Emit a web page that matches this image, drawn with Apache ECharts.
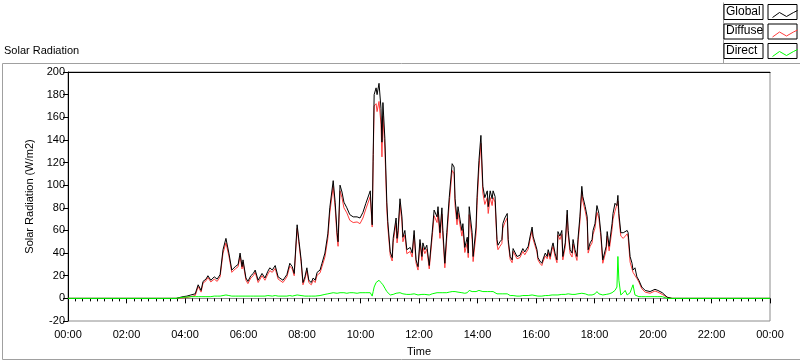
<!DOCTYPE html>
<html>
<head>
<meta charset="utf-8">
<script src="https://cdn.jsdelivr.net/npm/echarts@6/dist/echarts.min.js"></script>
<style>
html,body{margin:0;padding:0;background:#fff;}
#chart{width:800px;height:361px;}
</style>
</head>
<body>
<div id="chart"></div>
<script>
// time of each sample, minutes after midnight
var times = [0,222,226,236,244,252,261,267,273,277,283,287,293,300,306,312,318,324,330,336,343,349,353,357,359,365,369,375,380,384,390,398,404,410,414,419,425,431,435,441,449,455,460,464,470,474,478,482,486,490,494,499,503,507,511,517,521,527,533,537,544,548,552,554,558,562,566,572,578,585,593,599,605,611,615,620,624,626,628,632,634,638,642,644,646,650,654,656,661,665,667,673,675,677,681,685,687,691,695,702,706,710,714,718,722,726,728,732,736,741,747,751,757,759,763,767,769,773,777,782,786,788,792,794,798,800,804,808,810,814,819,821,823,829,831,837,839,843,847,851,855,860,862,866,870,872,876,880,882,886,890,892,896,901,903,907,911,913,921,927,933,937,944,948,952,954,958,962,964,968,972,974,979,983,985,989,993,995,999,1003,1005,1009,1013,1015,1020,1024,1026,1030,1034,1036,1040,1044,1046,1050,1054,1056,1061,1065,1067,1071,1075,1077,1081,1085,1089,1093,1097,1100,1104,1106,1110,1116,1118,1122,1126,1128,1130,1134,1139,1143,1147,1149,1153,1157,1159,1163,1167,1171,1177,1184,1194,1204,1210,1219,1229,1239,1440];
var globalRad = [0,0,0.5,1.5,2,3,4,12,7,15,17,20,16,19,17,21,43,53,40,25,28,30,40,28,34,18,15,20,22,25,16,22,18,24,27,25,29,19,19,16,21,31,28,22,65,50,35,14,19,27,16,14,18,16,23,25,31,40,57,80,104,85,58,50,100,94,85,80,74,72,72,71,76,84,85,95,65,127,180,186,180,190,168,138,173,141,85,68,41,36,53,71,53,60,88,72,54,60,43,45,40,60,34,28,52,37,49,43,47,29,58,78,72,81,58,80,60,31,58,89,88,119,116,88,70,81,70,60,66,45,54,40,81,58,37,63,89,122,144,99,89,95,81,95,88,95,90,52,47,50,52,66,71,75,52,37,34,44,37,38,44,41,46,55,63,55,49,43,36,33,31,34,40,37,43,37,46,49,40,34,59,55,60,37,49,78,60,43,40,52,43,37,52,72,99,90,81,72,43,49,52,60,66,82,75,58,34,33,46,59,46,66,75,84,82,91,75,58,58,59,60,58,37,31,25,27,19,16,10,7,6,8,7,5,1,0,0];
var diffuseRad = [0,0,0.3,0.5,0.8,1.5,2.5,10.5,5.5,13.5,15.5,18.5,14.5,17,15,19,40,49,37.5,23,26,28,37.5,26,32,16,13,18,20,23,14,20,16,21.5,24.5,23,26.5,17,17,14,19,28.5,26,20,62,47.5,32.5,12,17,24.5,14,12,16,14,20.5,22.5,28,36.5,53,75.5,99,80,53.5,46,95,89,80,75.5,69,67,67.5,66,71,79,80,90,63,121,170,172,165,174,154,125,161,132,79,63,38,33,49.5,66.5,49,56,83,67.5,50,56,39.5,41.5,36.5,56,31,25,48.5,33.5,45,39.5,43.5,26,54,73,67,76,53,74.5,55,27,53,83.5,82.5,113,110,82,65,75.5,65,55,61,40.5,49,36,74,52,32.5,57,82,115,137,93,83,89,75,89,82,89,85,48,43,46,48.5,62,67,71,49,34.5,31.5,41.5,35,36,41.5,38.5,43.5,52.5,60,52.5,46.5,41,34,31,29,32,37.5,35,40.5,34.5,43,46,37,31.5,56,52,56.5,34,45.5,74,56,39.5,36.5,48,39.5,33.5,48,67.5,94.5,86,77,68,40,46,49,56.5,62,76,71,54.5,31,30,42.5,55,42,61,70,77,76,86,71,55,53,52,57,54,32,26,23,24,17.5,14.5,8.5,5.5,4.5,6.5,5.5,3.5,1,0,0];
var directRad = [0,0,0.3,1,1.2,1.5,1.5,1.5,1.5,1.5,1.5,1.5,1.5,2,2,2,2.5,3,2.5,2,2,2,2.5,2,2,2,2,2,2,2.5,2,2,2,2.5,2.5,2,2.5,2,2,2,2,2.5,2,2,3,2.5,2.5,2,2,2.5,2,2,2,2,2.5,2.5,3,3.5,4,4.5,5,5,4.5,4,5,5,5,4.5,5,5,4.5,5,5,5,5,5,2,6,10,14,15,16,14,13,12,9,6,5,3,3,3.5,4.5,4,4,5,4.5,4,4,3.5,3.5,3.5,4,3,3,3.5,3.5,4,3.5,3.5,3,4,5,5,5,5,5.5,5,4,5,5.5,5.5,6,6,6,5,5.5,5,5,5,4.5,5,4,7,6,4.5,6,7,7,7,6,6,6,6,6,6,6,5,4,4,4,3.5,4,4,4,3,2.5,2.5,2.5,2,2,2.5,2.5,2.5,2.5,3,2.5,2.5,2,2,2,2,2,2.5,2,2.5,2.5,3,3,3,2.5,3,3,3.5,3,3.5,4,4,3.5,3.5,4,3.5,3.5,4,4.5,4.5,4,4,4,3,3,3,3.5,4,6,4,3.5,3,3,3.5,4,4,5,5,7,10,37,16,3,5,7,3,4,5,5,12,3,1.5,1.5,1.5,1.5,1.5,1.5,1.5,1.5,0,0,0];

var xTickStep = 120;
var yTicks = [-20, 200, 20];

var seriesNames = ['Global', 'Diffuse', 'Direct'];
var seriesColors = ['#000000', '#ff3c3c', '#00ff00'];
var seriesValues = [globalRad, diffuseRad, directRad];

function pad(n){ return (n < 10 ? '0' : '') + n; }
function fmtTime(v){
  var m = Math.round(v) % 1440;
  return pad(Math.floor(m / 60)) + ':' + pad(m % 60);
}

var FONT = 'Liberation Sans';

var legendGraphics = [];
seriesNames.forEach(function(name, i){
  var top = 4 + i * 19.5;
  legendGraphics.push({
    type: 'rect', left: 723.5, top: top,
    shape: { x: 0, y: 0, width: 39, height: 15 },
    style: { fill: '#fff', stroke: '#000', lineWidth: 1 }, z: 10
  });
  legendGraphics.push({
    type: 'text', left: 726, top: top + 1.5,
    style: { text: name, fill: '#000', font: '12px "' + FONT + '"' }, z: 11
  });
  legendGraphics.push({
    type: 'rect', left: 767.5, top: top,
    shape: { x: 0, y: 0, width: 29, height: 15 },
    style: { fill: '#fff', stroke: '#000', lineWidth: 1 }, z: 10
  });
  legendGraphics.push({
    type: 'polyline', left: 770, top: top + 4,
    shape: { points: [[0, 7], [7, 2], [14, 6], [21, 2], [25, 0]] },
    style: { stroke: seriesColors[i], lineWidth: 1, fill: null }, z: 11
  });
});

var chart = echarts.init(document.getElementById('chart'), null, { renderer: 'canvas' });

var series = seriesNames.map(function(name, i){
  return {
    name: name,
    type: 'line',
    showSymbol: false,
    symbol: 'none',
    animation: false,
    z: [3, 2, 4][i],
    lineStyle: { color: seriesColors[i], width: 1 },
    itemStyle: { color: seriesColors[i] },
    data: times.map(function(t, k){ return [t, seriesValues[i][k]]; })
  };
});

chart.setOption({
  backgroundColor: '#ffffff',
  animation: false,
  textStyle: { fontFamily: FONT },
  grid: {
    left: 68, right: 30, top: 72, bottom: 40,
    containLabel: false, outerBoundsMode: 'none',
    show: true, borderColor: '#8c8c8c', borderWidth: 1, backgroundColor: '#fff'
  },
  xAxis: [{
    type: 'value', min: 0, max: 1440, interval: xTickStep,
    name: 'Time', nameLocation: 'middle', nameGap: 25,
    nameTextStyle: { color: '#000', fontSize: 11, fontFamily: FONT },
    axisLine: { show: true, lineStyle: { color: '#8c8c8c', width: 1 } },
    axisTick: { show: true, length: 5, inside: false, lineStyle: { color: '#000' } },
    minorTick: { show: true, splitNumber: 8, length: 3, lineStyle: { color: '#000' } },
    axisLabel: { color: '#000', fontSize: 11, fontFamily: FONT, margin: 8, formatter: fmtTime },
    splitLine: { show: false }, minorSplitLine: { show: false }
  }, {
    type: 'value', min: 0, max: 1440, position: 'top',
    axisLine: { show: true, onZero: false, lineStyle: { color: '#000', width: 1 } },
    axisTick: { show: false }, axisLabel: { show: false }, splitLine: { show: false }
  }],
  yAxis: {
    type: 'value', min: yTicks[0], max: yTicks[1], interval: yTicks[2],
    name: 'Solar Radiation (W/m2)', nameLocation: 'middle', nameGap: 30, nameRotate: 90,
    nameTextStyle: { color: '#000', fontSize: 11, fontFamily: FONT },
    axisLine: { show: true, onZero: false, lineStyle: { color: '#000', width: 1 } },
    axisTick: { show: true, length: 5, lineStyle: { color: '#000' } },
    axisLabel: { color: '#000', fontSize: 11, fontFamily: FONT, margin: 3 },
    splitLine: { show: false }
  },
  graphic: [
    {
      type: 'text', left: 4, top: 45,
      style: { text: 'Solar Radiation', fill: '#000', font: '11px "' + FONT + '"' }
    },
    {
      type: 'rect', left: 0, top: 61,
      shape: { x: 0.5, y: 0.5, width: 798, height: 296 },
      style: { fill: 'none', stroke: '#a0a0a0', lineWidth: 1 }, z: 0
    },
    {
      type: 'line', left: 721, top: 0,
      shape: { x1: 0.5, y1: 0, x2: 0.5, y2: 61 },
      style: { stroke: '#a0a0a0', lineWidth: 1 }
    }
  ].concat(legendGraphics),
  series: series
});
</script>
</body>
</html>
